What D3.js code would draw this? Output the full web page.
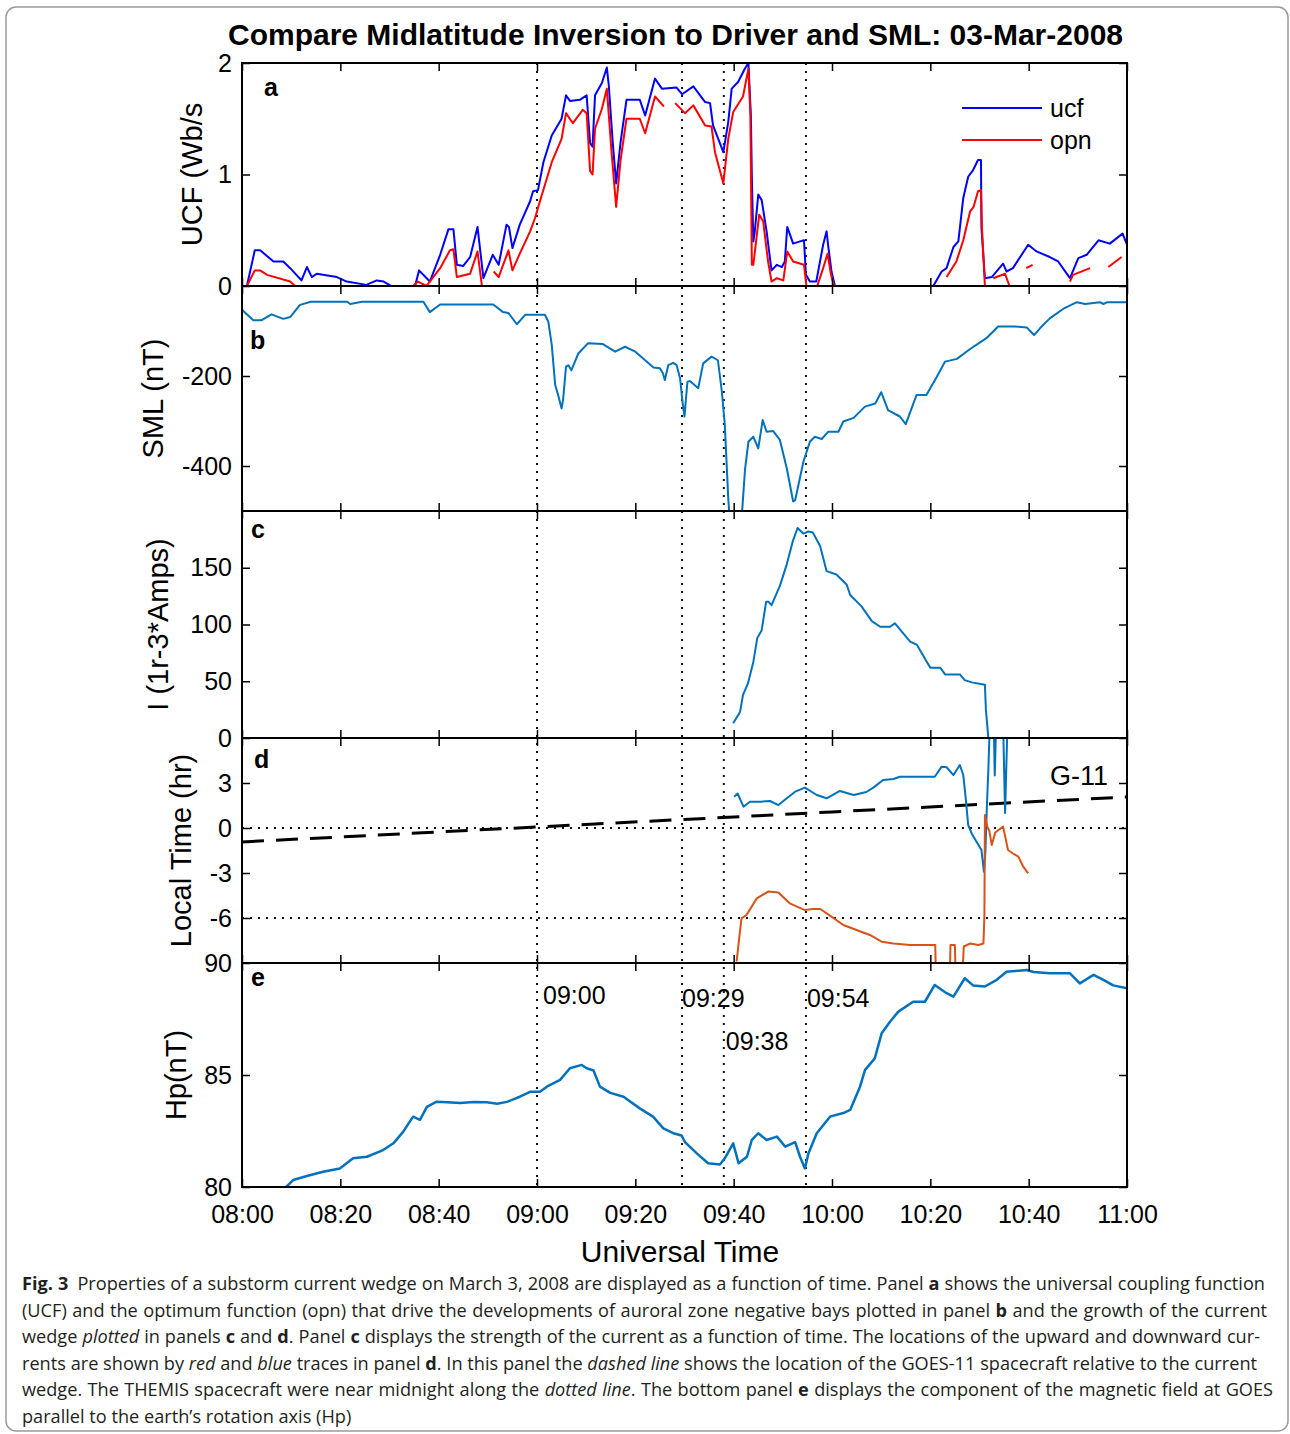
<!DOCTYPE html>
<html>
<head>
<meta charset="utf-8">
<script src="https://cdn.jsdelivr.net/npm/d3@7"></script>
<style>
  body { margin: 0; background: #fff; }
  text { font-family: "Liberation Sans", Arial, sans-serif; }
</style>
</head>
<body>
<script>
// ---- data (minutes after 08:00 UT, value) ----
var timeTicks = [0, 20, 40, 60, 80, 100, 120, 140, 160, 180];
var timeLabels = ["08:00", "08:20", "08:40", "09:00", "09:20", "09:40", "10:00", "10:20", "10:40", "11:00"];

var eventMinutes = [60, 89.5, 98, 114.7];
var eventLabels = ["09:00", "09:29", "09:38", "09:54"];

// panel a: universal coupling function and optimum function (null = gap)
var ucf = [[0,0],[1,0],[2.6,0.32],[3.7,0.32],[6.4,0.22],[8.4,0.22],[9.8,0.16],[12.1,0.05],[13.2,0.17],[14.2,0.08],[15.2,0.11],[19.3,0.08],[21.3,0.04],[25.3,0.01],[27.4,0.05],[28.8,0.04],[30.4,0],[35.2,0],[36,0.14],[38.2,0.04],[40.3,0.28],[42,0.51],[43,0.51],[43.7,0.19],[45,0.18],[46.4,0.26],[47.9,0.53],[49.1,0.07],[51,0.28],[52.2,0.19],[53.8,0.55],[54.3,0.53],[55,0.34],[56.5,0.55],[58.6,0.76],[59.2,0.85],[60.2,0.86],[61.3,1.11],[63,1.35],[65,1.5],[65.9,1.71],[66.7,1.66],[68.7,1.67],[70.1,1.71],[70.8,1.28],[71.3,1.25],[71.8,1.71],[73.2,1.82],[74.2,1.96],[74.6,1.8],[75.4,1.29],[76.1,0.92],[77,1.29],[78.2,1.67],[80.9,1.67],[82,1.53],[84,1.86],[85.4,1.77],[88.4,1.78],[89.5,1.72],[91.8,1.79],[94.2,1.65],[95.2,1.64],[95.8,1.44],[97.9,1.2],[98.9,1.47],[99.6,1.77],[100.9,1.83],[102.3,1.95],[103,2.0],[103.5,1.53],[103.7,0.97],[104,0.4],[104.3,0.49],[105,0.82],[105.7,0.77],[106.7,0.49],[107.7,0.14],[108.8,0.19],[109.8,0.17],[110.4,0.22],[110.9,0.53],[112.1,0.38],[113.5,0.4],[114.3,0.41],[114.7,0.1],[115.5,0.04],[116.8,0.04],[118.2,0.37],[118.9,0.49],[119.2,0.37],[119.9,0.13],[120.6,0],[140.6,0],[142.3,0.13],[143.3,0.16],[144.7,0.35],[145.7,0.4],[146.7,0.79],[147.7,0.98],[148.7,1.04],[149.7,1.13],[150.3,1.13],[150.4,0.52],[151.1,0.07],[152.5,0.08],[154.8,0.2],[155.5,0.13],[156.8,0.16],[159.9,0.37],[161.6,0.31],[164.3,0.26],[166,0.22],[168.4,0.07],[170.1,0.25],[171.8,0.28],[174.2,0.41],[176.5,0.38],[179.1,0.47],[180,0.37]];

var opn = [[0,0],[1,0],[2.6,0.14],[3.7,0.14],[5.1,0.1],[9.8,0.04],[10.8,0],[34.8,0],[35.8,0.04],[37.5,0],[40.3,0.16],[42.3,0.32],[43,0.33],[43.7,0.08],[46.4,0.11],[47.9,0.31],[48.8,0],[49.5,null],[51.2,0.13],[52.2,0.08],[54.2,0.32],[55,0.14],[56.5,0.29],[58.6,0.49],[59.6,0.61],[60.6,0.76],[63,1.11],[65,1.32],[65.9,1.55],[67.3,1.46],[69.3,1.58],[70.1,1.55],[70.8,1.03],[71.3,1.0],[71.8,1.41],[73.2,1.59],[74.2,1.77],[75.2,1.18],[76.1,0.71],[77,1.13],[78.2,1.5],[80.9,1.5],[82,1.37],[84,1.7],[85.8,1.61],[87,null],[88.1,1.64],[90.1,1.55],[91.8,1.62],[94.2,1.44],[95.5,1.43],[96.2,1.2],[97.9,0.92],[98.9,1.32],[99.9,1.56],[101.9,1.7],[103,1.95],[103.4,1.53],[103.7,0.19],[104,0.19],[105.2,0.64],[106,0.58],[107,0.22],[107.7,0.04],[108.8,0.07],[110.1,0.05],[110.9,0.31],[112.1,0.22],[114.3,0.19],[114.8,0],[117,0],[118.2,0.16],[119.1,0.29],[119.8,0.1],[120.4,0],[141,0],[142,null],[143.3,0.08],[145.3,0.22],[146.7,0.41],[148.1,0.67],[148.8,0.71],[149.7,0.85],[150.3,0.86],[150.5,0.52],[151.1,0],[152,null],[152.8,0.07],[155.2,0.11],[156.1,0],[157,null],[159.5,0.16],[160.8,0.19],[161.5,null],[168.4,0.04],[169,0.1],[172.5,0.16],[173.5,null],[176.2,0.17],[178.9,0.26]];

// panel b: SML index (nT)
var sml = [[0,-53],[2.3,-76],[4,-76],[6,-63],[8.4,-73],[9.8,-69],[11.8,-42],[14,-35],[21.4,-35],[22,-40],[24.4,-35],[36.9,-35],[38.2,-58],[40.3,-41],[51.1,-41],[53.1,-58],[54.2,-60],[55.9,-85],[57.6,-64],[61.6,-64],[62.3,-79],[63,-131],[63.7,-220],[64.3,-242],[65,-272],[65.3,-253],[65.9,-179],[66.4,-176],[67,-187],[68.4,-150],[70.4,-127],[73.4,-129],[75.9,-146],[77.9,-135],[80,-146],[83.7,-181],[85,-183],[85.6,-194],[86,-209],[86.7,-176],[87.7,-171],[88.4,-176],[89.1,-205],[89.6,-258],[90,-290],[90.3,-250],[90.6,-213],[91.1,-211],[92.8,-227],[93.8,-172],[95.5,-157],[96.8,-165],[97.6,-235],[98.2,-309],[98.9,-472],[99.2,-520],[101.6,-520],[102.3,-409],[103,-346],[104,-335],[105,-361],[105.9,-298],[106.7,-324],[108,-322],[109.4,-342],[110.8,-405],[112.1,-479],[112.5,-476],[114.2,-390],[115.5,-346],[116.5,-335],[117.9,-340],[119.2,-324],[121.3,-324],[122.3,-301],[124.4,-293],[126.7,-268],[128.8,-261],[130,-236],[131.4,-276],[133.8,-290],[135,-307],[137.2,-242],[139.2,-242],[141.3,-202],[143,-168],[145.4,-162],[148.1,-140],[151.4,-116],[153.8,-90],[157.2,-90],[159.6,-92],[161.1,-109],[162.3,-94],[164.3,-72],[167,-51],[169.8,-36],[171.5,-40],[174.5,-36],[175.2,-40],[176,-36],[180,-36]];

// panel c: wedge current (1e3 A)
var current = [[99.9,13],[101.3,23],[101.9,38],[102.9,48],[104,67],[104.8,88],[105.7,95],[106.6,120],[107.1,120],[107.7,117],[109.4,134],[110.8,153],[112,173],[113,185],[114.2,180],[115.2,182],[116.1,181],[117.6,169],[118.9,147],[120.9,144],[123,135],[123.7,126],[126,116],[128.1,103],[129.8,98],[131.8,98],[132.8,101],[135.9,85],[137.3,82],[139.3,67],[140,62],[142,62],[143,56],[146,56],[147,51],[148.4,49],[151.1,47],[151.3,25],[151.8,0],[154,0]];

// panel d: local time of wedge edges (hr), GOES-11 local time
var ltBlue = [[100.1,2.09],[100.8,2.3],[102,1.42],[103.3,1.75],[105.4,1.75],[107.4,1.8],[109.1,1.53],[110.8,1.98],[112.5,2.42],[114.5,2.69],[116.9,2.2],[118.9,1.98],[121.6,2.47],[124.4,2.2],[127,2.4],[128.4,2.69],[130.4,3.2],[132.5,3.27],[133.8,3.42],[140.9,3.42],[142.3,4.09],[143.3,4.05],[144.7,3.53],[146,4.2],[146.7,3.53],[147.2,1.98],[147.7,0.2],[148.4,-0.36],[149.3,-0.87],[150.4,-1.47],[150.9,-2.91],[151.2,-1.6],[151.5,1.42],[151.8,3.9],[152.1,7],[152.9,7],[153.1,3.5],[153.4,7],[154.8,7],[155.2,1.0],[155.7,7]];
var ltRed = [[100.6,-8.9],[101.2,-7.13],[101.6,-6.02],[102.6,-5.8],[104.7,-4.69],[107,-4.24],[109.1,-4.3],[111.4,-5.02],[114.5,-5.47],[116.2,-5.4],[117.6,-5.4],[119.9,-5.91],[122.3,-6.47],[125,-6.8],[127.7,-7.13],[130.1,-7.58],[132.5,-7.7],[135.9,-7.8],[141,-7.8],[141.1,-9.3],[144,-9.3],[144.1,-7.8],[145,-7.8],[145.1,-9.3],[146.6,-9.3],[146.8,-7.9],[148.1,-7.7],[149.8,-7.8],[150.8,-7.7],[151,-5.8],[151.1,0.87],[151.6,0.09],[152,-0.2],[152.5,-1.13],[153.2,-0.3],[154.8,0.09],[155.8,-1.47],[156.8,-1.7],[157.9,-1.91],[158.9,-2.58],[159.9,-3.02]];
var g11 = [[0,-0.93],[60,0.07],[120,1.07],[180,2.07]];
var ltRefLines = [0, -6];

// panel e: GOES Hp (nT)
var hp = [[8.7,79.94],[10.4,80.31],[13.2,80.49],[16.5,80.68],[19.9,80.83],[22.6,81.28],[25.4,81.35],[28.7,81.65],[30.8,81.95],[32.8,82.47],[34.8,83.14],[36.2,83.0],[37.6,83.58],[39.6,83.81],[41.7,83.78],[44.4,83.75],[47.1,83.8],[49.8,83.78],[51.9,83.72],[53.9,83.8],[56.5,84.03],[58.6,84.25],[60.6,84.25],[62,84.48],[64.7,84.78],[66.7,85.3],[69.1,85.45],[70.1,85.3],[71.5,85.2],[72.8,84.48],[74.9,84.2],[77.6,84.03],[80.9,83.51],[83.6,83.14],[85.7,82.62],[87.7,82.4],[89.4,82.3],[90.1,82.0],[92.5,81.5],[94.8,81.06],[97.2,81.0],[98.2,81.28],[99.9,81.95],[101,81.06],[102.7,81.35],[103.7,82.1],[105,82.4],[106.7,82.1],[108.8,82.25],[110.5,81.8],[112.5,82.0],[113.5,81.35],[114.5,80.83],[115.2,81.5],[116.9,82.4],[119.6,83.14],[122.3,83.3],[123.7,83.44],[125.7,84.48],[126.7,85.22],[128.7,85.74],[130.1,86.86],[131.8,87.38],[133.5,87.83],[136.5,88.27],[138.9,88.27],[140.9,89.02],[143.3,88.65],[144.7,88.5],[147,89.32],[148.7,89.0],[151.1,88.95],[153.5,89.25],[155.5,89.61],[159.6,89.69],[161,89.6],[164.3,89.54],[168.4,89.54],[170.4,89.09],[173.2,89.47],[175.2,89.25],[177.2,89.0],[180,88.87]];

// ---- layout ----
var width = 1290, height = 1434;
var left = 242, right = 1127;

var svg = d3.select("body").append("svg")
    .attr("width", width)
    .attr("height", height);

// rounded figure border
svg.append("rect")
    .attr("x", 6).attr("y", 7)
    .attr("width", 1282).attr("height", 1424)
    .attr("rx", 10)
    .attr("fill", "none")
    .attr("stroke", "#9a9a9a")
    .attr("stroke-width", 1.5);

var x = d3.scaleLinear().domain([0, 180]).range([left, right]);

var panels = [
    {id: "a", top: 63, bottom: 286, domain: [0, 2], ticks: [0, 1, 2], labels: [0, 1, 2], title: "UCF (Wb/s", tx: 202},
    {id: "b", top: 286, bottom: 511, domain: [-500, 0], ticks: [-400, -200], labels: [-400, -200], title: "SML (nT)", tx: 163},
    {id: "c", top: 511, bottom: 738, domain: [0, 200], ticks: [0, 50, 100, 150], labels: [0, 50, 100, 150], title: "I (1r-3*Amps)", tx: 168},
    {id: "d", top: 738, bottom: 963, domain: [-9, 6], ticks: [-6, -3, 0, 3], labels: [-6, -3, 0, 3], title: "Local Time (hr)", tx: 191},
    {id: "e", top: 963, bottom: 1187, domain: [80, 90], ticks: [80, 85, 90], labels: [80, 85, 90], title: "Hp(nT)", tx: 186}
];

panels.forEach(function(p) {
    p.y = d3.scaleLinear().domain(p.domain).range([p.bottom, p.top]);
    svg.append("clipPath").attr("id", "clip-" + p.id)
        .append("rect")
        .attr("x", left).attr("y", p.top)
        .attr("width", right - left).attr("height", p.bottom - p.top);
});

function line(y) {
    return d3.line()
        .defined(function(d) { return d[1] !== null; })
        .x(function(d) { return x(d[0]); })
        .y(function(d) { return y(d[1]); });
}

function drawSeries(p, data, color, w, dash) {
    svg.append("path")
        .datum(data)
        .attr("clip-path", "url(#clip-" + p.id + ")")
        .attr("fill", "none")
        .attr("stroke", color)
        .attr("stroke-width", w)
        .attr("stroke-dasharray", dash || null)
        .attr("stroke-linejoin", "round")
        .attr("d", line(p.y));
}

var pa = panels[0], pb = panels[1], pc = panels[2], pd = panels[3], pe = panels[4];

// dotted reference lines (event times and THEMIS midnight)
svg.append("g").selectAll("line")
    .data(eventMinutes)
    .enter().append("line")
    .attr("x1", function(d) { return x(d); })
    .attr("x2", function(d) { return x(d); })
    .attr("y1", pa.top)
    .attr("y2", pe.bottom)
    .attr("stroke", "#111")
    .attr("stroke-width", 2)
    .attr("stroke-dasharray", "2,6");

svg.append("g").selectAll("line")
    .data(ltRefLines)
    .enter().append("line")
    .attr("x1", left)
    .attr("x2", right)
    .attr("y1", function(d) { return pd.y(d); })
    .attr("y2", function(d) { return pd.y(d); })
    .attr("stroke", "#111")
    .attr("stroke-width", 2.2)
    .attr("stroke-dasharray", "2,6");

// series
drawSeries(pa, ucf, "#0000ff", 2);
drawSeries(pa, opn, "#ff0000", 2);
drawSeries(pb, sml, "#0072bd", 2);
drawSeries(pc, current, "#0072bd", 2);
drawSeries(pd, g11, "#000", 3, "22,12");
drawSeries(pd, ltBlue, "#0072bd", 2);
drawSeries(pd, ltRed, "#d95319", 2);
drawSeries(pe, hp, "#0072bd", 2.5);

// axes and frames
panels.forEach(function(p, i) {
    var tickFmt = function(d) { return p.labels.indexOf(d) >= 0 ? String(d) : ""; };

    var gl = svg.append("g")
        .attr("transform", "translate(" + left + ",0)")
        .call(d3.axisLeft(p.y).tickValues(p.ticks).tickSize(-8).tickSizeOuter(0).tickPadding(10).tickFormat(tickFmt));
    svg.append("g")
        .attr("transform", "translate(" + right + ",0)")
        .call(d3.axisRight(p.y).tickValues(p.ticks).tickSize(-8).tickSizeOuter(0).tickFormat(""));
    svg.append("g")
        .attr("transform", "translate(0," + p.top + ")")
        .call(d3.axisTop(x).tickValues(timeTicks).tickSize(-8).tickSizeOuter(0).tickFormat(""));
    var gb = svg.append("g")
        .attr("transform", "translate(0," + p.bottom + ")")
        .call(d3.axisBottom(x).tickValues(timeTicks).tickSize(-8).tickSizeOuter(0).tickPadding(18)
            .tickFormat(function(d, k) { return i === panels.length - 1 ? timeLabels[k] : ""; }));

    [gl, gb].forEach(function(g) {
        g.selectAll("text").attr("font-size", 25).attr("fill", "#000")
            .style("font-family", "'Liberation Sans', Arial, sans-serif");
    });
    svg.selectAll(".tick line").attr("stroke", "#000").attr("stroke-width", 1.5);
    svg.selectAll(".domain").remove();

    svg.append("rect")
        .attr("x", left).attr("y", p.top)
        .attr("width", right - left).attr("height", p.bottom - p.top)
        .attr("fill", "none")
        .attr("stroke", "#000")
        .attr("stroke-width", 2);

    // y axis title
    svg.append("text")
        .attr("transform", "translate(" + p.tx + "," + (p.top + p.bottom) / 2 + ") rotate(-90)")
        .attr("text-anchor", "middle")
        .attr("font-size", 29)
        .text(p.title);
});

// panel letters
var letterPos = [[264, 96], [250, 349], [251, 538], [254, 768], [251, 986]];
panels.forEach(function(p, i) {
    svg.append("text")
        .attr("x", letterPos[i][0]).attr("y", letterPos[i][1])
        .attr("font-size", 25).attr("font-weight", "bold")
        .text(p.id);
});

// legend panel a
var legend = [["ucf", "#0000ff"], ["opn", "#ff0000"]];
legend.forEach(function(l, i) {
    svg.append("line")
        .attr("x1", 962).attr("x2", 1042)
        .attr("y1", 108 + i * 32).attr("y2", 108 + i * 32)
        .attr("stroke", l[1]).attr("stroke-width", 2);
    svg.append("text")
        .attr("x", 1050).attr("y", 117 + i * 32)
        .attr("font-size", 25)
        .text(l[0]);
});

svg.append("text")
    .attr("x", 1050).attr("y", 785)
    .attr("font-size", 27)
    .text("G-11");

// event time labels in panel e
var eventLabelY = [1004, 1007, 1050, 1007];
var eventLabelDx = [6, 0, 2, 1];
eventLabels.forEach(function(t, i) {
    svg.append("text")
        .attr("x", x(eventMinutes[i]) + eventLabelDx[i])
        .attr("y", eventLabelY[i])
        .attr("font-size", 25)
        .text(t);
});

// titles
svg.append("text")
    .attr("x", 228).attr("y", 45)
    .attr("font-size", 30).attr("font-weight", "bold")
    .attr("textLength", 895).attr("lengthAdjust", "spacingAndGlyphs")
    .text("Compare Midlatitude Inversion to Driver and SML: 03-Mar-2008");

svg.append("text")
    .attr("x", 680).attr("y", 1262)
    .attr("text-anchor", "middle")
    .attr("font-size", 30)
    .text("Universal Time");

// caption, justified line by line with word spacing
var captionLines = [
    {right: 1265, parts: [["Fig. 3", "b"], ["\u2002Properties of a substorm current wedge on March 3, 2008 are displayed as a function of time. Panel ", ""], ["a", "b"], [" shows the universal coupling function", ""]]},
    {right: 1267, parts: [["(UCF) and the optimum function (opn) that drive the developments of auroral zone negative bays plotted in panel ", ""], ["b", "b"], [" and the growth of the current", ""]]},
    {right: 1260, parts: [["wedge ", ""], ["plotted", "i"], [" in panels ", ""], ["c", "b"], [" and ", ""], ["d", "b"], [". Panel ", ""], ["c", "b"], [" displays the strength of the current as a function of time. The locations of the upward and downward cur-", ""]]},
    {right: 1257, parts: [["rents are shown by ", ""], ["red", "i"], [" and ", ""], ["blue", "i"], [" traces in panel ", ""], ["d", "b"], [". In this panel the ", ""], ["dashed line", "i"], [" shows the location of the GOES-11 spacecraft relative to the current", ""]]},
    {right: 1273, parts: [["wedge. The THEMIS spacecraft were near midnight along the ", ""], ["dotted line", "i"], [". The bottom panel ", ""], ["e", "b"], [" displays the component of the magnetic field at GOES", ""]]},
    {right: null, parts: [["parallel to the earth\u2019s rotation axis (Hp)", ""]]}
];

var capLeft = 22, capSize = 19.5;
var cap = svg.append("g")
    .attr("fill", "#231f20")
    .style("font-family", "'Open Sans', 'Noto Sans', sans-serif");

var capTexts = captionLines.map(function(c, i) {
    var t = cap.append("text")
        .attr("x", capLeft)
        .attr("y", 1290 + i * 26.6)
        .attr("font-size", capSize)
        .style("font-family", "'Open Sans', 'Noto Sans', sans-serif");
    c.parts.forEach(function(p) {
        t.append("tspan")
            .attr("font-weight", p[1] === "b" ? "bold" : null)
            .attr("font-style", p[1] === "i" ? "italic" : null)
            .text(p[0]);
    });
    return t;
});

// one font size that lets every full line fit, then spread the words
var fit = d3.min(captionLines, function(c, i) {
    return c.right ? (c.right - capLeft) / capTexts[i].node().getComputedTextLength() : Infinity;
});
var size = capSize * Math.min(1, fit);
capTexts.forEach(function(t, i) {
    t.attr("font-size", size);
    var c = captionLines[i];
    if (!c.right) return;
    var w = t.node().getComputedTextLength();
    var spaces = c.parts.map(function(p) { return p[0]; }).join("").split(" ").length - 1;
    t.style("word-spacing", ((c.right - capLeft - w) / spaces) + "px");
});
</script>
</body>
</html>
